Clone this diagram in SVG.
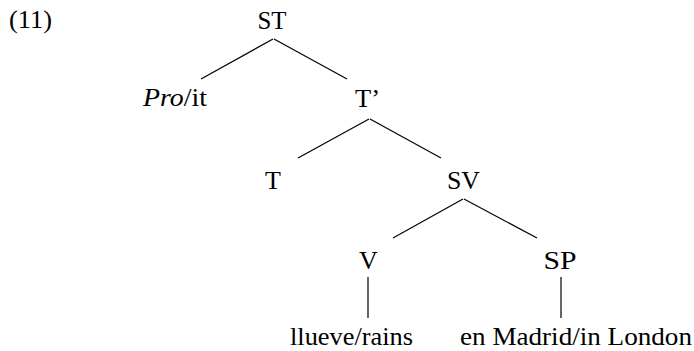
<svg xmlns="http://www.w3.org/2000/svg" width="694" height="351" viewBox="0 0 694 351">
<style>
text{font-family:"Liberation Serif","Times New Roman",serif;font-size:26px;fill:#000}
.c{text-anchor:middle}
.e{stroke:#000;stroke-width:1.2;fill:none}
</style>
<rect width="694" height="351" fill="#fff"/>
<text id="num" x="9" y="28" textLength="43" lengthAdjust="spacingAndGlyphs">(11)</text>
<g id="connectors">
<line class="e" x1="273" y1="39" x2="201" y2="79"/>
<line class="e" x1="274" y1="39" x2="347" y2="79"/>
<line class="e" x1="369" y1="119" x2="298" y2="158"/>
<line class="e" x1="370" y1="119" x2="441" y2="158"/>
<line class="e" x1="463" y1="199" x2="393" y2="238"/>
<line class="e" x1="464" y1="199" x2="537" y2="238"/>
<line class="e" x1="368" y1="277" x2="368" y2="318"/>
<line class="e" x1="561" y1="277" x2="561" y2="318"/>
</g>
<g id="ST"><text class="c" x="272" y="29" textLength="29" lengthAdjust="spacingAndGlyphs">ST</text></g>
<g id="Pro"><text x="143" y="106" textLength="64" lengthAdjust="spacingAndGlyphs"><tspan font-style="italic">Pro</tspan>/it</text></g>
<g id="Tbar"><text x="355" y="107" textLength="25" lengthAdjust="spacingAndGlyphs">T’</text></g>
<g id="T"><text class="c" x="273" y="189">T</text></g>
<g id="SV"><text class="c" x="463.5" y="189" textLength="33" lengthAdjust="spacingAndGlyphs">SV</text></g>
<g id="V"><text class="c" x="368.5" y="269">V</text></g>
<g id="SP"><text class="c" x="560" y="269" textLength="33" lengthAdjust="spacingAndGlyphs">SP</text></g>
<g id="llueve"><text x="290" y="345" textLength="123" lengthAdjust="spacingAndGlyphs">llueve/rains</text></g>
<g id="madrid"><text x="460" y="345" textLength="232" lengthAdjust="spacingAndGlyphs">en Madrid/in London</text></g>
</svg>
